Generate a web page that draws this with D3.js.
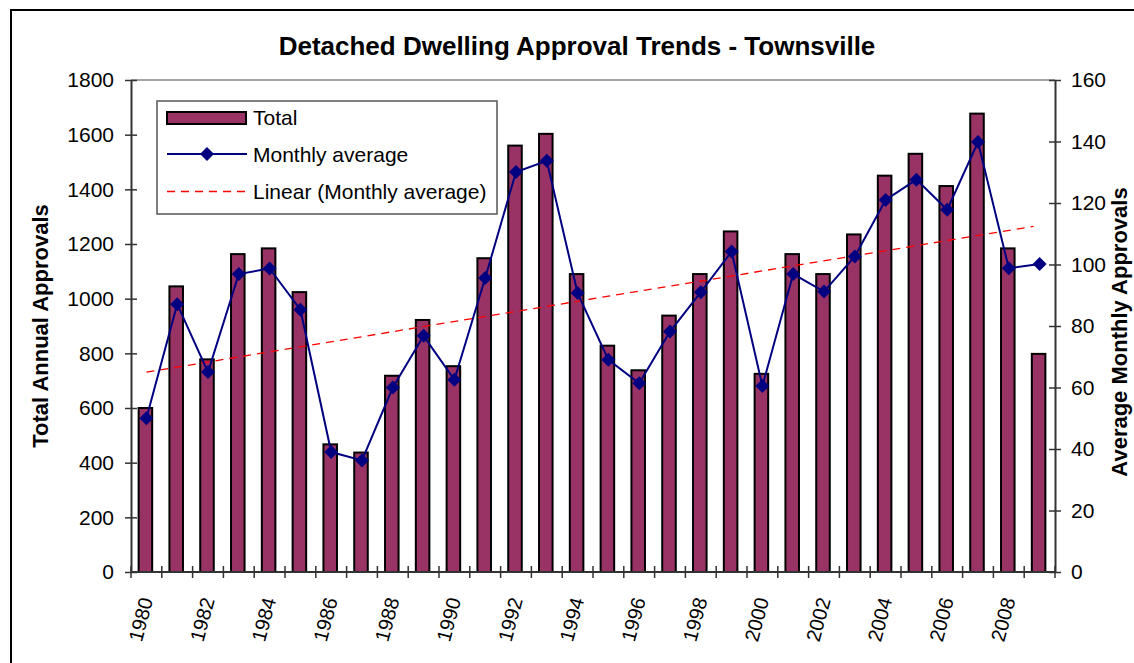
<!DOCTYPE html>
<html>
<head>
<meta charset="utf-8">
<script src="https://cdn.jsdelivr.net/npm/d3@7"></script>
<style>
  body { margin: 0; background: #fff; }
  svg text { font-family: "Liberation Sans", Arial, sans-serif; fill: #000; }
</style>
</head>
<body>
<svg id="chart" width="1134" height="663"></svg>
<script>
// Data
const years = d3.range(1980, 2010);
const totals = [600, 1045, 778, 1163, 1184, 1024, 467, 437, 718, 922,
                753, 1148, 1560, 1603, 1090, 828, 738, 938, 1090, 1246,
                725, 1163, 1090, 1235, 1450, 1530, 1412, 1677, 1184, 798];
const monthly = [50.0, 87.1, 65.0, 96.9, 98.7, 85.3, 39.0, 36.3, 60.0, 76.8,
                 62.5, 95.6, 130.1, 133.7, 90.7, 69.0, 61.4, 78.2, 91.0, 104.2,
                 60.5, 96.9, 91.2, 102.6, 121.0, 127.6, 117.8, 139.8, 98.8, 100.2];
const trendYears = [1980, 2009];
const trendValues = [65.0, 112.4];
const leftTicks = d3.range(0, 1801, 200);
const rightTicks = d3.range(0, 161, 20);

const svg = d3.select("#chart");
const plot = { left: 131, right: 1055, top: 80, bottom: 572 };

const x = d3.scaleBand().domain(years).range([plot.left, plot.right]).padding(0);
const yLeft = d3.scaleLinear().domain([0, 1800]).range([plot.bottom, plot.top]);
const yRight = d3.scaleLinear().domain([0, 160]).range([plot.bottom, plot.top]);
const cx = d => x(d) + x.bandwidth() / 2;

const barColor = "#993366";
const lineColor = "#000080";
const axisColor = "#333";

// outer chart frame
svg.append("rect")
    .attr("x", 11).attr("y", 10)
    .attr("width", 1140).attr("height", 670)
    .attr("fill", "none").attr("stroke", "#000").attr("stroke-width", 2);

// plot area top border
svg.append("line")
    .attr("x1", plot.left).attr("x2", plot.right)
    .attr("y1", plot.top).attr("y2", plot.top)
    .attr("stroke", "#888").attr("stroke-width", 1.5);

// title
svg.append("text")
    .attr("x", 577).attr("y", 55)
    .attr("text-anchor", "middle")
    .attr("font-size", 26).attr("font-weight", "bold")
    .text("Detached Dwelling Approval Trends - Townsville");

// bars
const barW = x.bandwidth() * 0.44;
svg.append("g")
    .selectAll("rect")
    .data(years)
    .join("rect")
    .attr("x", d => cx(d) - barW / 2 - 1)
    .attr("y", (d, i) => yLeft(totals[i]))
    .attr("width", barW)
    .attr("height", (d, i) => plot.bottom - yLeft(totals[i]))
    .attr("fill", barColor)
    .attr("stroke", "#000")
    .attr("stroke-width", 2);

// linear trend line
svg.append("line")
    .attr("x1", cx(trendYears[0])).attr("y1", yRight(trendValues[0]))
    .attr("x2", cx(trendYears[1]) - 6).attr("y2", yRight(trendValues[1]))
    .attr("stroke", "#ff0000").attr("stroke-width", 1.3)
    .attr("stroke-dasharray", "8,6");

// monthly average line + diamonds
const line = d3.line().x((d, i) => cx(years[i])).y(d => yRight(d));
svg.append("path")
    .datum(monthly)
    .attr("d", line)
    .attr("fill", "none")
    .attr("stroke", lineColor)
    .attr("stroke-width", 2);

const diamond = d3.symbol(d3.symbolSquare, 98);
svg.append("g")
    .selectAll("path")
    .data(monthly)
    .join("path")
    .attr("d", diamond)
    .attr("transform", (d, i) => `translate(${cx(years[i])},${yRight(d)}) rotate(45)`)
    .attr("fill", lineColor);

// axes
const leftAxis = svg.append("g")
    .attr("transform", `translate(${plot.left},0)`)
    .call(d3.axisLeft(yLeft).tickValues(leftTicks).tickFormat(d3.format("d"))
        .tickSizeInner(6).tickSizeOuter(0));
const rightAxis = svg.append("g")
    .attr("transform", `translate(${plot.right},0)`)
    .call(d3.axisRight(yRight).tickValues(rightTicks).tickFormat(d3.format("d"))
        .tickSizeInner(6).tickSizeOuter(0));
[leftAxis, rightAxis].forEach(a => {
    a.select(".domain").attr("stroke", axisColor).attr("stroke-width", 2);
    a.selectAll(".tick line").attr("stroke", axisColor).attr("stroke-width", 1.5)
        .attr("x1", -6).attr("x2", 6);
    a.selectAll(".tick text").attr("font-size", 21)
        .attr("font-family", "Liberation Sans, Arial, sans-serif").attr("fill", "#000");
});
leftAxis.selectAll(".tick text").attr("x", -17);
rightAxis.selectAll(".tick text").attr("x", 16);

// category axis
const xAxis = svg.append("g");
xAxis.append("line")
    .attr("x1", plot.left).attr("x2", plot.right)
    .attr("y1", plot.bottom).attr("y2", plot.bottom)
    .attr("stroke", axisColor).attr("stroke-width", 2);
xAxis.selectAll(".xtick")
    .data(years.concat([2010]))
    .join("line")
    .attr("class", "xtick")
    .attr("x1", d => x(d) ?? plot.right).attr("x2", d => x(d) ?? plot.right)
    .attr("y1", plot.bottom - 6).attr("y2", plot.bottom + 6)
    .attr("stroke", axisColor).attr("stroke-width", 1.5);
xAxis.selectAll(".xlabel")
    .data(years.filter(d => d % 2 === 0))
    .join("text")
    .attr("class", "xlabel")
    .attr("text-anchor", "end")
    .attr("dy", "0.35em")
    .attr("font-size", 20)
    .attr("transform", d => `translate(${cx(d)},598) rotate(-75)`)
    .text(d => d);

// axis titles
svg.append("text")
    .attr("transform", "translate(48,326) rotate(-90)")
    .attr("text-anchor", "middle")
    .attr("font-size", 22).attr("font-weight", "bold")
    .text("Total Annual Approvals");
svg.append("text")
    .attr("transform", "translate(1127,332) rotate(-90)")
    .attr("text-anchor", "middle")
    .attr("font-size", 22).attr("font-weight", "bold")
    .text("Average Monthly Approvals");

// legend
const legend = svg.append("g");
legend.append("rect")
    .attr("x", 157).attr("y", 101)
    .attr("width", 340).attr("height", 113)
    .attr("fill", "#fff").attr("stroke", "#555").attr("stroke-width", 1.5);
legend.append("rect")
    .attr("x", 167).attr("y", 112)
    .attr("width", 79).attr("height", 12)
    .attr("fill", barColor).attr("stroke", "#000").attr("stroke-width", 2);
legend.append("line")
    .attr("x1", 167).attr("x2", 247).attr("y1", 154).attr("y2", 154)
    .attr("stroke", lineColor).attr("stroke-width", 2);
legend.append("path")
    .attr("d", diamond)
    .attr("transform", "translate(207,154) rotate(45)")
    .attr("fill", lineColor);
legend.append("line")
    .attr("x1", 167).attr("x2", 247).attr("y1", 191.5).attr("y2", 191.5)
    .attr("stroke", "#ff0000").attr("stroke-width", 1.3)
    .attr("stroke-dasharray", "8,6");
const legendLabels = ["Total", "Monthly average", "Linear (Monthly average)"];
legend.selectAll(".ltext")
    .data(legendLabels)
    .join("text")
    .attr("class", "ltext")
    .attr("x", 253)
    .attr("y", (d, i) => 118 + i * 37)
    .attr("dy", "0.35em")
    .attr("font-size", 21)
    .text(d => d);
</script>
</body>
</html>
